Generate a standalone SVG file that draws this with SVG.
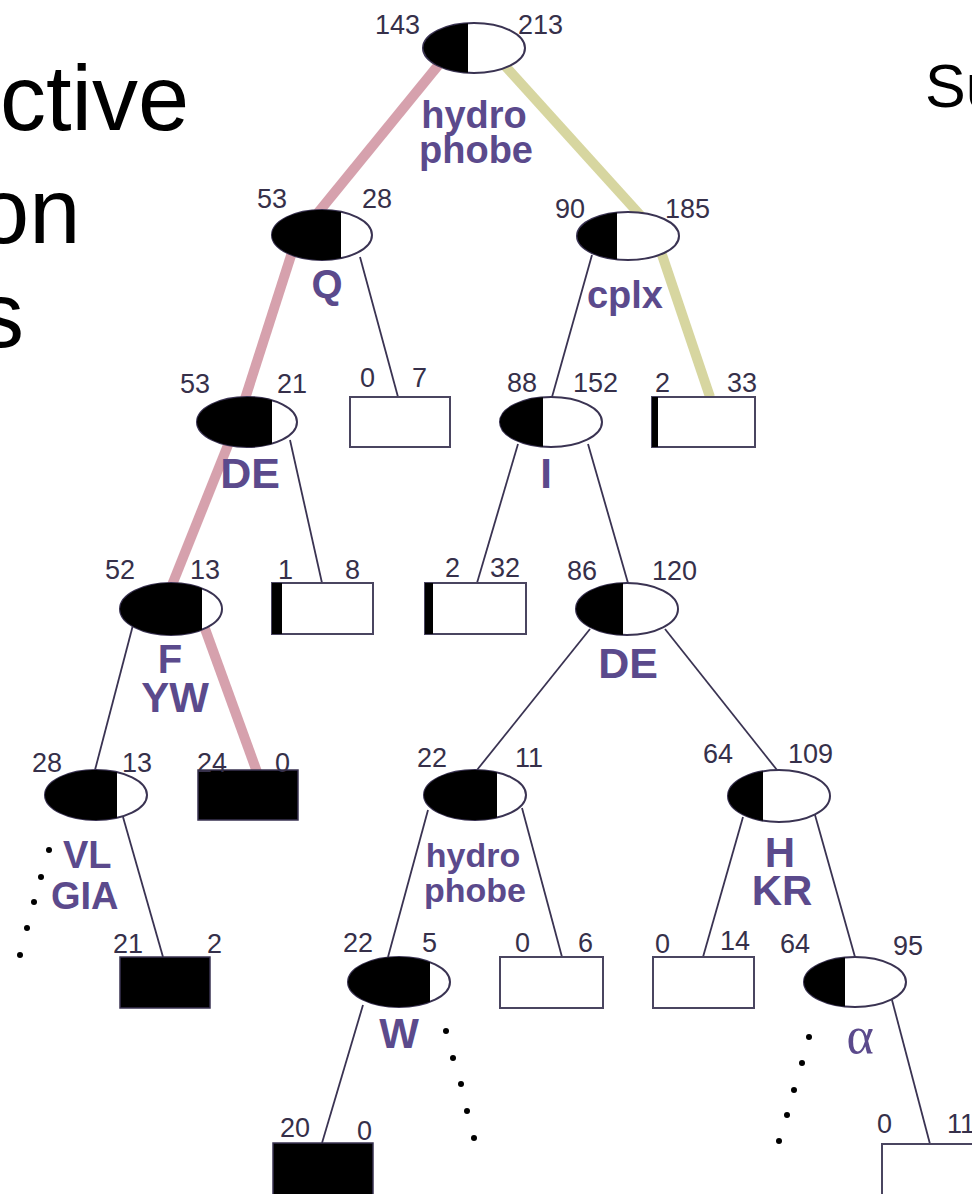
<svg xmlns="http://www.w3.org/2000/svg" width="972" height="1194" viewBox="0 0 972 1194">
<style>
.num{font-family:"Liberation Sans",Arial,sans-serif;font-size:27px;fill:#36304a}
.lab{font-family:"Liberation Sans",Arial,sans-serif;font-weight:bold;fill:#5b4a8c;text-anchor:middle}
.lab.st{text-anchor:start}
.big{font-family:"Liberation Sans",Arial,sans-serif;fill:#000}
.ell{fill:#fff;stroke:#3a3352;stroke-width:2}
.half{fill:#000}
.box{fill:#fff;stroke:#4a4560;stroke-width:2}
.blk{fill:#000;stroke:#3a3352;stroke-width:1.5}
.thin{stroke:#3a3352;stroke-width:1.8;fill:none}
.pink{stroke:#d6a1ad;stroke-width:10;fill:none}
.olive{stroke:#d7d6a0;stroke-width:10;fill:none}
.dot{fill:#000}
</style>
<rect width="972" height="1194" fill="#fff"/>
<g id="title">
<text class="big" x="0" y="130" font-size="92">ctive</text>
<text class="big" x="-22" y="243" font-size="92">on</text>
<text class="big" x="-22" y="347" font-size="92">s</text>
<text class="big" x="925" y="107" font-size="61">Su</text>
</g>
<g id="connectors">
<line class="pink" x1="445" y1="57" x2="308" y2="225"/>
<line class="pink" x1="296" y1="240" x2="243" y2="405"/>
<line class="pink" x1="232" y1="435" x2="170" y2="590"/>
<line class="pink" x1="200" y1="615" x2="257" y2="772"/>
<line class="olive" x1="497" y1="57" x2="641" y2="216"/>
<line class="olive" x1="657" y1="240" x2="710" y2="397"/>
<line class="thin" x1="360" y1="257" x2="398" y2="397"/>
<line class="thin" x1="290" y1="440" x2="322" y2="583"/>
<line class="thin" x1="592" y1="255" x2="552" y2="397"/>
<line class="thin" x1="518" y1="444" x2="477" y2="583"/>
<line class="thin" x1="588" y1="444" x2="628" y2="583"/>
<line class="thin" x1="133" y1="625" x2="95" y2="770"/>
<line class="thin" x1="123" y1="817" x2="163" y2="957"/>
<line class="thin" x1="590" y1="629" x2="477" y2="770"/>
<line class="thin" x1="665" y1="629" x2="777" y2="770"/>
<line class="thin" x1="428" y1="810" x2="388" y2="957"/>
<line class="thin" x1="522" y1="808" x2="562" y2="957"/>
<line class="thin" x1="743" y1="817" x2="703" y2="957"/>
<line class="thin" x1="815" y1="815" x2="855" y2="957"/>
<line class="thin" x1="363" y1="1005" x2="322" y2="1143"/>
<line class="thin" x1="892" y1="1000" x2="930" y2="1144"/>
</g>
<g id="n_root">
<ellipse class="ell" cx="474" cy="48" rx="51" ry="25"/>
<path class="half" d="M468,23.2 A51 25 0 0 0 468,72.8 Z"/>
<text class="num" x="375" y="34">143</text><text class="num" x="518" y="34">213</text>
<text class="lab" x="474" y="128" font-size="38">hydro</text>
<text class="lab" x="476" y="163" font-size="38">phobe</text>
</g>
<g id="n_q">
<ellipse class="ell" cx="322" cy="235" rx="50" ry="25"/>
<path class="half" d="M341,211.9 A50 25 0 1 0 341,258.1 Z"/>
<text class="num" x="257" y="208">53</text><text class="num" x="362" y="208">28</text>
<text class="lab" x="327" y="298" font-size="40">Q</text>
</g>
<g id="n_cplx">
<ellipse class="ell" cx="628" cy="236" rx="51" ry="24"/>
<path class="half" d="M617,212.6 A51 24 0 0 0 617,259.4 Z"/>
<text class="num" x="555" y="218">90</text><text class="num" x="665" y="218">185</text>
<text class="lab" x="625" y="308" font-size="38">cplx</text>
</g>
<g id="b_0_7">
<rect class="box" x="350" y="397" width="100" height="50"/>
<text class="num" x="360" y="387">0</text><text class="num" x="412" y="387">7</text>
</g>
<g id="n_de1">
<ellipse class="ell" cx="247" cy="422" rx="50" ry="25"/>
<path class="half" d="M272,400.35 A50 25 0 1 0 272,443.65 Z"/>
<text class="num" x="180" y="393">53</text><text class="num" x="277" y="393">21</text>
<text class="lab" x="250" y="488" font-size="43">DE</text>
</g>
<g id="n_i">
<ellipse class="ell" cx="551" cy="422" rx="51" ry="25"/>
<path class="half" d="M543,397.3 A51 25 0 0 0 543,446.7 Z"/>
<text class="num" x="507" y="392">88</text><text class="num" x="573" y="392">152</text>
<text class="lab" x="546" y="488" font-size="42">I</text>
</g>
<g id="b_2_33">
<rect class="box" x="652" y="397" width="103" height="50"/>
<rect x="652" y="397" width="6" height="50" fill="#000"/>
<text class="num" x="655" y="392">2</text><text class="num" x="727" y="392">33</text>
</g>
<g id="n_f">
<ellipse class="ell" cx="171" cy="609" rx="51" ry="26"/>
<path class="half" d="M202,588.35 A51 26 0 1 0 202,629.65 Z"/>
<text class="num" x="105" y="579">52</text><text class="num" x="190" y="579">13</text>
<text class="lab" x="170" y="673" font-size="40">F</text>
<text class="lab" x="175" y="712" font-size="42">YW</text>
</g>
<g id="b_1_8">
<rect class="box" x="272" y="583" width="101" height="51"/>
<rect x="272" y="583" width="10" height="51" fill="#000"/>
<text class="num" x="278" y="579">1</text><text class="num" x="345" y="579">8</text>
</g>
<g id="b_2_32">
<rect class="box" x="425" y="583" width="101" height="51"/>
<rect x="425" y="583" width="8" height="51" fill="#000"/>
<text class="num" x="445" y="577">2</text><text class="num" x="490" y="577">32</text>
</g>
<g id="n_de2">
<ellipse class="ell" cx="627" cy="609" rx="51" ry="26"/>
<path class="half" d="M623,583.08 A51 26 0 0 0 623,634.92 Z"/>
<text class="num" x="567" y="580">86</text><text class="num" x="652" y="580">120</text>
<text class="lab" x="628" y="678" font-size="43">DE</text>
</g>
<g id="n_28_13">
<ellipse class="ell" cx="96" cy="795" rx="51" ry="25"/>
<path class="half" d="M117,772.22 A51 25 0 1 0 117,817.78 Z"/>
<text class="num" x="32" y="772">28</text><text class="num" x="122" y="772">13</text>
<text class="lab st" x="63" y="868" font-size="38">VL</text>
<text class="lab st" x="51" y="909" font-size="38">GIA</text>
<circle class="dot" cx="49" cy="850" r="3"/>
<circle class="dot" cx="41" cy="877" r="3"/>
<circle class="dot" cx="34" cy="902" r="3"/>
<circle class="dot" cx="27" cy="928" r="3"/>
<circle class="dot" cx="20" cy="955" r="3"/>
</g>
<g id="b_24_0">
<rect class="blk" x="198" y="770" width="100" height="50"/>
<text class="num" x="197" y="772">24</text><text class="num" x="275" y="772">0</text>
</g>
<g id="n_22_11">
<ellipse class="ell" cx="475" cy="795" rx="51" ry="25"/>
<path class="half" d="M497,772.45 A51 25 0 1 0 497,817.55 Z"/>
<text class="num" x="417" y="767">22</text><text class="num" x="515" y="767">11</text>
<text class="lab" x="473" y="867" font-size="34">hydro</text>
<text class="lab" x="475" y="902" font-size="34">phobe</text>
</g>
<g id="n_64_109">
<ellipse class="ell" cx="779" cy="796" rx="51" ry="26"/>
<path class="half" d="M763,771.31 A51 26 0 0 0 763,820.69 Z"/>
<text class="num" x="703" y="763">64</text><text class="num" x="788" y="763">109</text>
<text class="lab" x="780" y="867" font-size="42">H</text>
<text class="lab" x="782" y="905" font-size="42">KR</text>
</g>
<g id="b_21_2">
<rect class="blk" x="120" y="957" width="90" height="51"/>
<text class="num" x="113" y="953">21</text><text class="num" x="207" y="953">2</text>
</g>
<g id="n_22_5">
<ellipse class="ell" cx="399" cy="982" rx="51" ry="25"/>
<path class="half" d="M430,962.15 A51 25 0 1 0 430,1001.85 Z"/>
<text class="num" x="343" y="952">22</text><text class="num" x="422" y="952">5</text>
<text class="lab" x="399" y="1048" font-size="42">W</text>
<circle class="dot" cx="446" cy="1031" r="3"/>
<circle class="dot" cx="453" cy="1058" r="3"/>
<circle class="dot" cx="461" cy="1084" r="3"/>
<circle class="dot" cx="467" cy="1111" r="3"/>
<circle class="dot" cx="474" cy="1138" r="3"/>
</g>
<g id="b_0_6">
<rect class="box" x="500" y="957" width="103" height="51"/>
<text class="num" x="515" y="952">0</text><text class="num" x="578" y="952">6</text>
</g>
<g id="b_0_14">
<rect class="box" x="653" y="957" width="101" height="51"/>
<text class="num" x="655" y="953">0</text><text class="num" x="720" y="950">14</text>
</g>
<g id="n_64_95">
<ellipse class="ell" cx="855" cy="982" rx="51" ry="25"/>
<path class="half" d="M845,957.48 A51 25 0 0 0 845,1006.52 Z"/>
<text class="num" x="780" y="953">64</text><text class="num" x="893" y="955">95</text>
<text x="860" y="1053" font-family="'Liberation Serif','Times New Roman',serif" font-size="52" fill="#5b4a8c" text-anchor="middle">α</text>
<circle class="dot" cx="809" cy="1037" r="3"/>
<circle class="dot" cx="802" cy="1063" r="3"/>
<circle class="dot" cx="794" cy="1090" r="3"/>
<circle class="dot" cx="787" cy="1115" r="3"/>
<circle class="dot" cx="779" cy="1141" r="3"/>
</g>
<g id="b_20_0">
<rect class="blk" x="273" y="1143" width="100" height="55"/>
<text class="num" x="280" y="1137">20</text><text class="num" x="357" y="1140">0</text>
</g>
<g id="b_0_11">
<rect class="box" x="882" y="1144" width="100" height="55"/>
<text class="num" x="877" y="1133">0</text><text class="num" x="947" y="1133">11</text>
</g>
</svg>
